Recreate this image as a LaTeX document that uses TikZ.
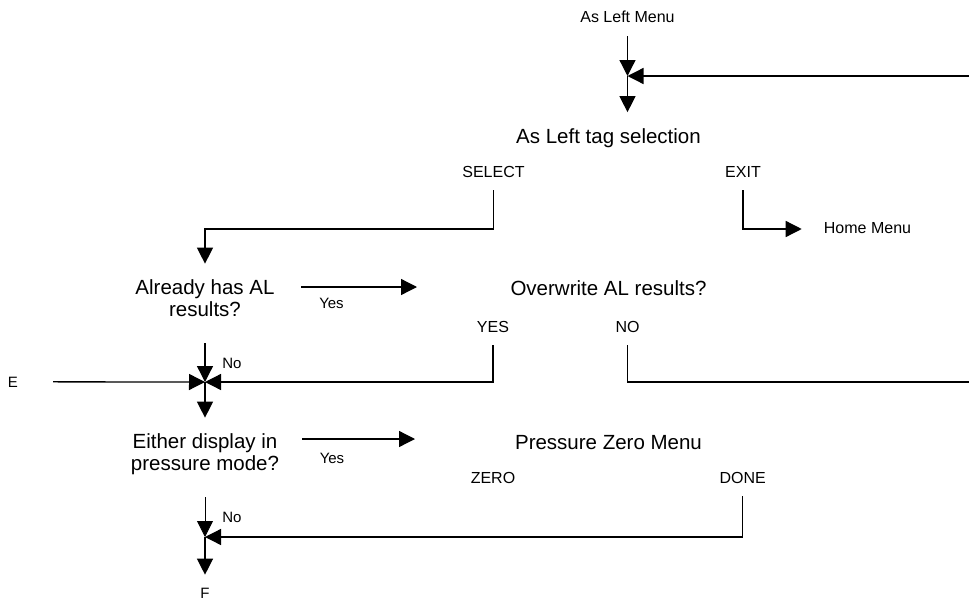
\documentclass[tikz,border=0pt]{standalone}
\usepackage{fontspec}
\setmainfont{Liberation Sans}
\usetikzlibrary{positioning,arrows.meta}

\begin{document}
\begin{tikzpicture}[x=1pt,y=-1pt,
      grande/.style={font=\fontsize{20.5}{21.5}\selectfont,align=center,
                     inner sep=0pt,outer ysep=16pt,anchor=base},
      tecla/.style={font=\fontsize{16}{18}\selectfont,inner sep=0pt,
                    outer ysep=13pt,anchor=base},
      nota/.style={font=\fontsize{15}{17}\selectfont,inner sep=0pt,anchor=base},
      ln/.style={line width=1.3pt},
      fl/.style={ln,-{Triangle[length=16pt,width=16pt]}}]
    \useasboundingbox (0,0) rectangle (969,605);
    % menus y preguntas
    \node[tecla] (alm) at (627.5,23) {As Left Menu};
    \node[grande] (alsel) at (608.5,143) {As Left tag selection};
    \node[tecla] (select) at (493.5,177) {SELECT};
    \node[tecla] (exit) at (743,177) {EXIT};
    \node[tecla] (home) at (867.5,233) {Home Menu};
    \node[grande] (already) at (205,316) {Already has AL\\ results?};
    \node[grande] (overw) at (608.5,295) {Overwrite AL results?};
    \node[tecla] (yesk) at (493,332) {YES};
    \node[tecla] (nok) at (627.5,332) {NO};
    \node[grande] (either) at (205,470) {Either display in\\ pressure mode?};
    \node[grande] (press) at (608.5,449) {Pressure Zero Menu};
    \node[tecla] (zero) at (493,483) {ZERO};
    \node[tecla] (done) at (742.7,483) {DONE};
    \node[nota] (e) at (13,387) {E};
    \node[nota,outer ysep=13pt] (f) at (205,598) {F};
    \node[nota] (no1) at (232,368) {No};
    \node[nota] (yes1) at (331.5,308) {Yes};
    \node[nota] (yes2) at (332,463) {Yes};
    \node[nota] (no2) at (232,522) {No};
    % cruces
    \coordinate (j1) at (627.5,76);
    \coordinate (r1) at (969,76);
    \coordinate (k1) at (205,229);
    \coordinate (j2) at (205,382);
    \coordinate (r2) at (969,382);
    \coordinate (j3) at (205,537);
    \coordinate (ya1) at (301,287);
    \coordinate (yb1) at (417,287);
    \coordinate (ya2) at (302,439);
    \coordinate (yb2) at (415,439);
    % flechas
    \draw[fl] (alm) -- (j1);
    \draw[fl] (r1) -- (j1);
    \draw[fl] (j1) -- (j1 |- alsel.north);
    \draw[fl] (select.south) |- (k1) -- (already.north);
    \draw[fl] (exit.south) |- ([shift={(-22pt,4pt)}]home.base west);
    \draw[fl] ([yshift=-11pt]already.south) -- (j2);
    \draw[fl] ([xshift=35pt]e.east) -- (j2);
    \draw[fl] (yesk.south) |- (j2);
    \draw[ln] (nok.south) |- (r2);
    \draw[fl] (j2) -- (either.north);
    \draw[fl] (ya1) -- (yb1);
    \draw[fl] (ya2) -- (yb2);
    \draw[fl,line width=0.8pt] ([yshift=-7pt]either.south) -- (j3);
    \draw[fl] (done.south) |- (j3);
    \draw[fl] (j3) -- (f);
\end{tikzpicture}
\end{document}
